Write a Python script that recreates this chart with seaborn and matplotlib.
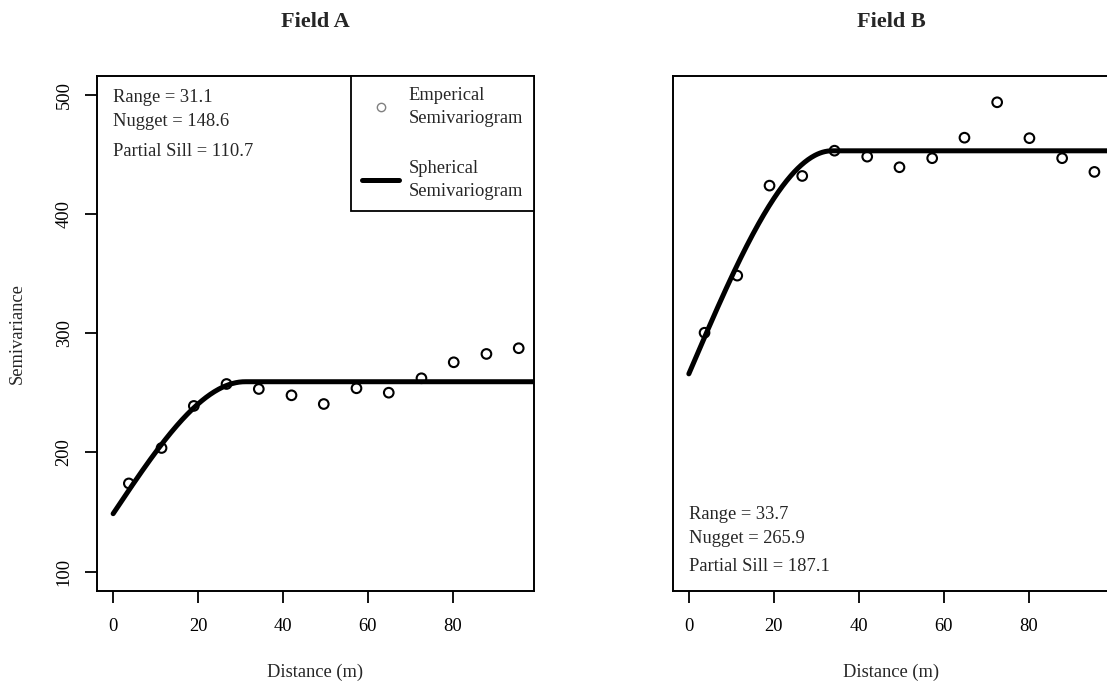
import numpy as np
import pandas as pd
import seaborn as sns
import matplotlib.pyplot as plt
from matplotlib.lines import Line2D

sns.set_style("ticks")
plt.rcParams['font.family'] = ['Liberation Serif', 'DejaVu Serif']

# lag distances (m), same bins in both fields
lags = [3.7, 11.4, 19.0, 26.7, 34.3, 42.0, 49.6, 57.3, 64.9, 72.6, 80.2, 87.9, 95.5]
semi_a = [174.0, 203.7, 239.0, 257.4, 253.2, 247.9, 240.6, 253.8, 250.1, 262.2, 275.6, 282.6, 287.4]
semi_b = [300.4, 348.3, 423.8, 431.9, 453.1, 448.1, 439.2, 446.8, 464.0, 493.7, 463.6, 446.8, 435.3]

# fitted spherical model (range, nugget, partial sill)
range_a, nugget_a, psill_a = 31.1, 148.6, 110.7
range_b, nugget_b, psill_b = 33.7, 265.9, 187.1

FS = 13.3


def spherical(h, a, c0, c):
    r = np.minimum(h / a, 1.0)
    return c0 + c * (1.5 * r - 0.5 * r ** 3)


def panel(ax, semi, a, c0, c, title):
    pts = pd.DataFrame({'dist': lags, 'gamma': semi})
    h = np.linspace(0, 100, 500)
    fit = pd.DataFrame({'dist': h, 'gamma': spherical(h, a, c0, c)})

    sns.scatterplot(data=pts, x='dist', y='gamma', ax=ax, marker='o', s=48,
                    facecolor='none', edgecolor='black', linewidth=1.5, zorder=2)
    sns.lineplot(data=fit, x='dist', y='gamma', ax=ax, color='black', lw=3.6,
                 sort=False, estimator=None, zorder=3, solid_capstyle='round')

    ax.set_xlim(-3.8, 99.1)
    ax.set_ylim(84, 516)
    ax.set_xticks([0, 20, 40, 60, 80])
    ax.set_title(title, fontsize=16, fontweight='bold', pad=35)
    ax.set_xlabel('Distance (m)', fontsize=FS)
    ax.xaxis.set_label_coords(0.5, -0.142)
    ax.set_ylabel('')
    for s in ax.spines.values():
        s.set_color('black')
        s.set_linewidth(1.4)
    ax.tick_params(length=8.5, width=1.3, pad=11, labelsize=FS, colors='black')


fig = plt.figure(figsize=(11.07, 6.87), dpi=100)
ax1 = fig.add_axes([97 / 1107, 96.3 / 687, 437 / 1107, 515 / 687])
ax2 = fig.add_axes([672.7 / 1107, 96.3 / 687, 437 / 1107, 515 / 687])

panel(ax1, semi_a, range_a, nugget_a, psill_a, 'Field A')
panel(ax2, semi_b, range_b, nugget_b, psill_b, 'Field B')

# Field A: y axis with vertical labels
ax1.set_yticks([100, 200, 300, 400, 500])
for lab in ax1.get_yticklabels():
    lab.set_rotation(90)
    lab.set_va('center')
ax1.tick_params(axis='y', pad=9)
ax1.set_ylabel('Semivariance', fontsize=FS)
ax1.yaxis.set_label_coords(-0.163, 0.5)

# Field B: no y axis
ax2.set_yticks([])

# model parameters
ax1.text(0, 497.3, f'Range = {range_a}', fontsize=FS, va='center', ha='left')
ax1.text(0, 477.2, f'Nugget = {nugget_a}', fontsize=FS, va='center', ha='left')
ax1.text(0, 452.8, f'Partial Sill = {psill_a}', fontsize=FS, va='center', ha='left')
ax2.text(0, 147.5, f'Range = {range_b}', fontsize=FS, va='center', ha='left')
ax2.text(0, 127.4, f'Nugget = {nugget_b}', fontsize=FS, va='center', ha='left')
ax2.text(0, 103.9, f'Partial Sill = {psill_b}', fontsize=FS, va='center', ha='left')

handles = [Line2D([], [], ls='none', marker='o', ms=6, mfc='none', mec='grey', mew=1.0),
           Line2D([], [], color='black', lw=3.6)]
labels = ['Emperical\nSemivariogram', 'Spherical\nSemivariogram']
leg = ax1.legend(handles, labels, loc='upper right', bbox_to_anchor=(1, 1), borderaxespad=0,
                 frameon=True, fancybox=False, edgecolor='black', framealpha=1, fontsize=FS,
                 handlelength=2.0, handletextpad=0.5, borderpad=0.6, labelspacing=1.75)
leg.get_frame().set_linewidth(1.3)
for t in leg.get_texts():
    t.set_linespacing(1.5)

fig.savefig('out.png', dpi=100)
